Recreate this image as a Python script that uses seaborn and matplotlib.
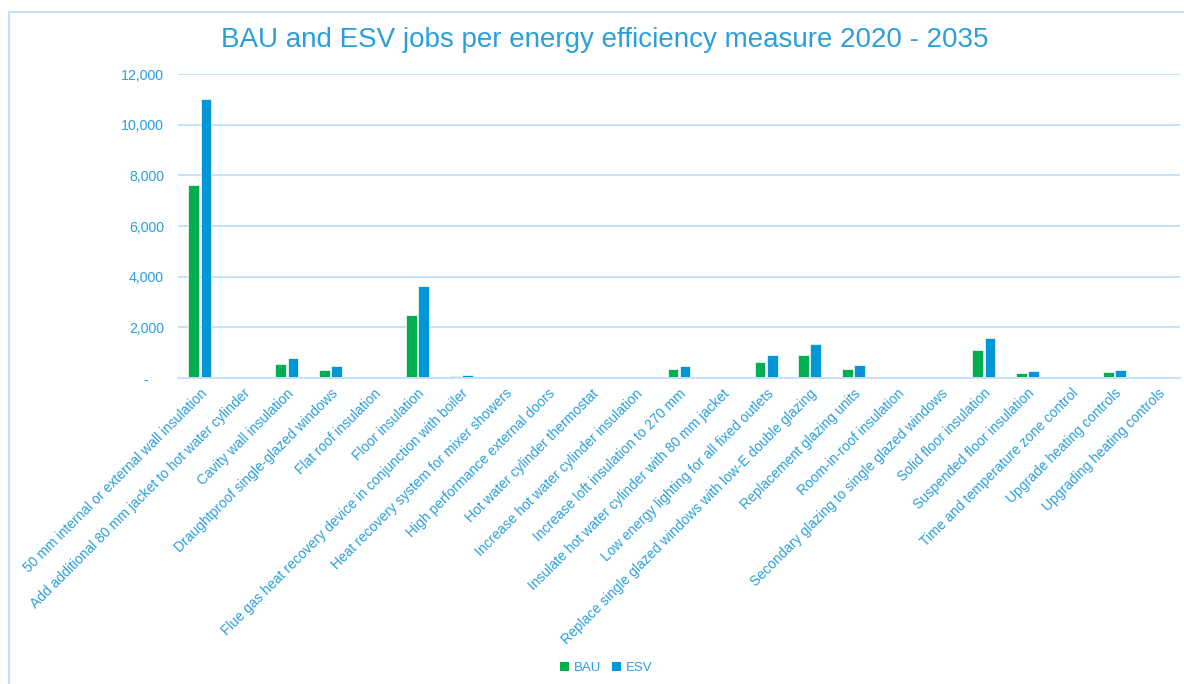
import matplotlib
matplotlib.use("Agg")
import matplotlib.pyplot as plt
import matplotlib.patches as mpatches
from matplotlib.ticker import FuncFormatter
import seaborn as sns
import pandas as pd

measures = [
    "50 mm internal or external wall insulation",
    "Add additional 80 mm jacket to hot water cylinder",
    "Cavity wall insulation",
    "Draughtproof single-glazed windows",
    "Flat roof insulation",
    "Floor insulation",
    "Flue gas heat recovery device in conjunction with boiler",
    "Heat recovery system for mixer showers",
    "High performance external doors",
    "Hot water cylinder thermostat",
    "Increase hot water cylinder insulation",
    "Increase loft insulation to 270 mm",
    "Insulate hot water cylinder with 80 mm jacket",
    "Low energy lighting for all fixed outlets",
    "Replace single glazed windows with low-E double glazing",
    "Replacement glazing units",
    "Room-in-roof insulation",
    "Secondary glazing to single glazed windows",
    "Solid floor insulation",
    "Suspended floor insulation",
    "Time and temperature zone control",
    "Upgrade heating controls",
    "Upgrading heating controls",
]

bau_jobs = [7600, 0, 550, 310, 0, 2480, 70, 0, 0, 0, 0, 340, 0, 630, 920,
            370, 0, 0, 1090, 190, 0, 220, 50]
esv_jobs = [11000, 0, 780, 470, 0, 3620, 110, 0, 0, 0, 0, 490, 0, 920, 1330,
            500, 0, 0, 1560, 280, 0, 310, 50]

scenarios = ["BAU", "ESV"]
palette = {"BAU": "#00B050", "ESV": "#0096D8"}

text_blue = "#2A9FDC"
grid_blue = "#C6E1F6"

df = pd.DataFrame({
    "measure": measures * 2,
    "scenario": ["BAU"] * len(measures) + ["ESV"] * len(measures),
    "jobs": bau_jobs + esv_jobs,
})

sns.set_theme(style="white")
plt.rcParams["font.family"] = ["Liberation Sans", "DejaVu Sans"]

fig = plt.figure(figsize=(11.84, 6.84), dpi=100)
ax = fig.add_axes([178 / 1184, 1 - 378 / 684, 1002 / 1184, 304 / 684])

sns.barplot(data=df, x="measure", y="jobs", hue="scenario", order=measures,
            hue_order=scenarios, palette=palette, width=0.56, gap=0.12,
            edgecolor="#e8f6ee", linewidth=0.6, ax=ax, legend=False,
            saturation=1)


def accounting(v, pos):
    # zero shown as an indented dash, like accounting number format
    return "-    " if v == 0 else f"{int(v):,}"


ax.set_ylim(0, 12000)
ax.set_yticks(range(0, 12001, 2000))
ax.yaxis.set_major_formatter(FuncFormatter(accounting))
ax.grid(axis="y", color=grid_blue, linewidth=1.4)
ax.set_axisbelow(True)
for s in ["top", "right", "left"]:
    ax.spines[s].set_visible(False)
ax.spines["bottom"].set_color(grid_blue)
ax.spines["bottom"].set_linewidth(1.4)
ax.set_xlabel("")
ax.set_ylabel("")
ax.tick_params(axis="both", length=0, colors=text_blue)
ax.tick_params(axis="y", labelsize=10.2, pad=10)
ax.set_xticks(range(len(measures)))
ax.set_xticklabels(measures, rotation=45, ha="right", rotation_mode="anchor",
                   fontsize=10, color=text_blue)
ax.tick_params(axis="x", pad=6)
ax.set_xlim(-0.5, len(measures) - 0.5)

fig.text(0.511, 0.942, "BAU and ESV jobs per energy efficiency measure 2020 - 2035",
         ha="center", va="center", fontsize=20, color=text_blue)

handles = [mpatches.Patch(facecolor=palette[s], edgecolor="none", label=s) for s in scenarios]
leg = fig.legend(handles=handles, loc="center", bbox_to_anchor=(0.512, 0.023), ncol=2,
                 frameon=False, handlelength=0.7, handleheight=0.7, handletextpad=0.35,
                 columnspacing=0.8, fontsize=9.5)
for t in leg.get_texts():
    t.set_color(text_blue)

frame = mpatches.Rectangle((9 / 1184, -0.2), 1.5, 1.2 - 12 / 684, transform=fig.transFigure,
                           fill=False, edgecolor=grid_blue, linewidth=1.5, clip_on=False)
fig.patches.append(frame)

fig.savefig("out.png", dpi=100, facecolor="white")
